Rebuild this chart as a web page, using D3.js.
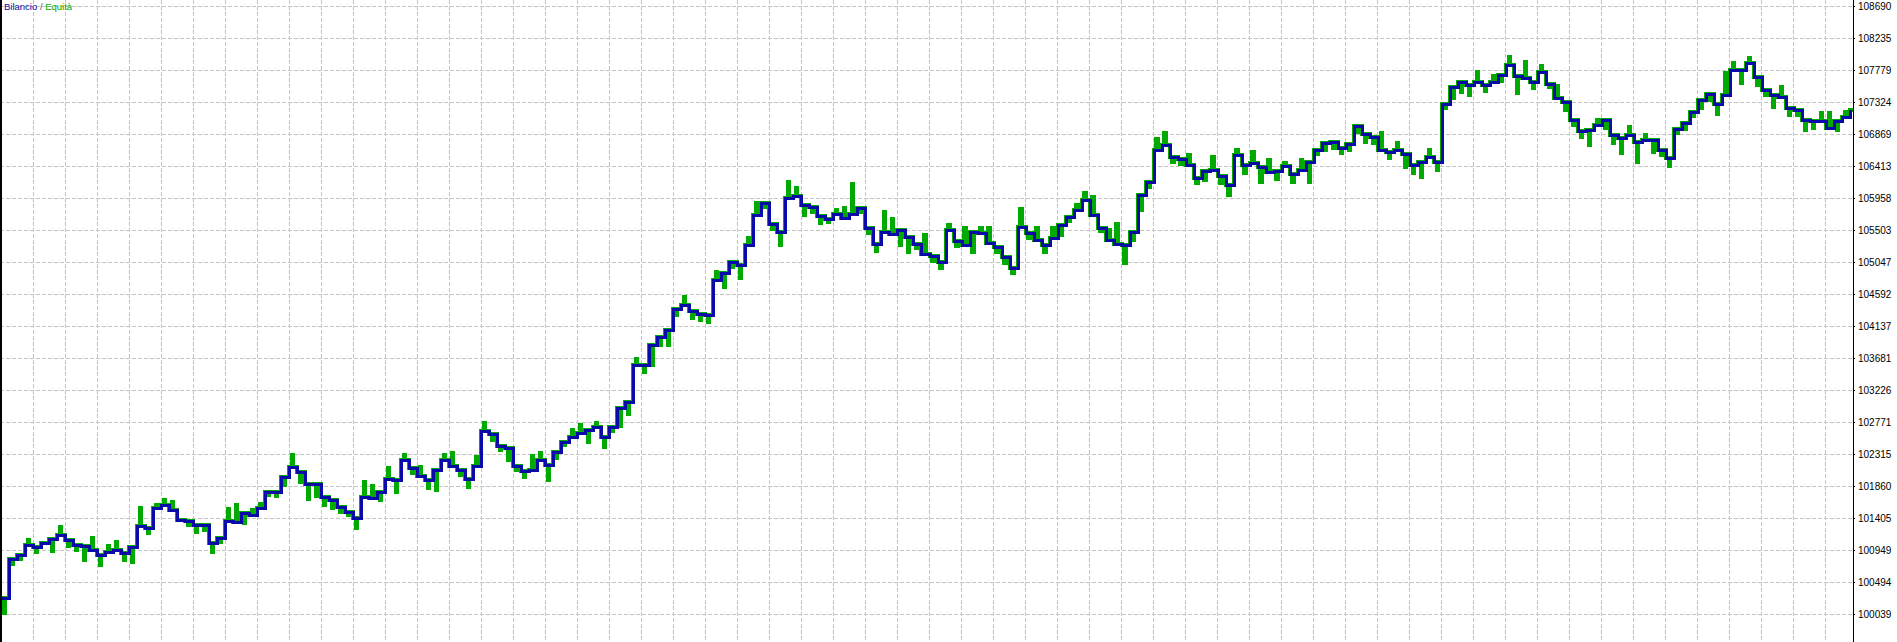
<!DOCTYPE html>
<html>

<head>
    <meta charset="utf-8">
    <style>
        body {
            margin: 0;
            background: white;
        }

        svg {
            display: block;
            font-family: 'Liberation Sans', Arial, sans-serif;
        }

        .grid line {
            stroke: #c4c4c4;
            stroke-width: 1px;
            stroke-dasharray: 4, 2;
            shape-rendering: crispEdges;
        }

        .y .tick text {
            font-size: 10px;
            fill: #000;
        }

        .y .domain {
            display: none;
        }
    </style>
</head>

<body>
    <svg width="1897" height="642"></svg>
</body>

<script src="https://d3js.org/d3.v7.min.js"></script>

<script>
    let width = 1897;
    let height = 642;

    // balance, one value per trade step
    let balance = [
        100266, 100821, 100878, 101020, 100992, 101049, 101106, 101163, 101091, 101020,
        101006, 100949, 100878, 100921, 100949, 100906, 100992, 101291, 101262, 101547,
        101589, 101518, 101376, 101362, 101305, 101305, 101049, 101120, 101362, 101348,
        101476, 101447, 101547, 101774, 101774, 101988, 102130, 102059, 101888, 101888,
        101703, 101660, 101561, 101490, 101404, 101703, 101689, 101774, 101959, 101945,
        102230, 102116, 102002, 101945, 102087, 102230, 102144, 102087, 101959, 102144,
        102642, 102600, 102429, 102400, 102144, 102073, 102087, 102230, 102159, 102344,
        102486, 102557, 102614, 102657, 102699, 102557, 102699, 102970, 103055, 103581,
        103581, 103866, 103980, 104079, 104378, 104435, 104350, 104307, 104293, 104791,
        104890, 105047, 105004, 105289, 105716, 105887, 105588, 105474, 105958, 105986,
        105858, 105830, 105702, 105659, 105730, 105673, 105730, 105815, 105531, 105303,
        105474, 105445, 105502, 105403, 105303, 105161, 105132, 105047, 105502, 105346,
        105289, 105474, 105460, 105317, 105260, 105118, 104962, 105545, 105460, 105360,
        105289, 105389, 105574, 105687, 105787, 105929, 105716, 105531, 105360, 105303,
        105289, 105474, 106000, 106185, 106641, 106712, 106541, 106513, 106427, 106242,
        106342, 106356, 106271, 106143, 106570, 106427, 106456, 106399, 106328, 106342,
        106413, 106299, 106356, 106470, 106641, 106740, 106755, 106669, 106726, 106982,
        106868, 106826, 106641, 106612, 106641, 106584, 106427, 106470, 106541, 106470,
        107295, 107537, 107608, 107566, 107608, 107566, 107608, 107708, 107850, 107694,
        107665, 107608, 107751, 107580, 107381, 107324, 107068, 106911, 106925, 106996,
        107068, 106854, 106811, 106854, 106755, 106783, 106783, 106641, 106527, 106940,
        107025, 107181, 107352, 107438, 107295, 107423, 107779, 107779, 107879, 107679,
        107494, 107423, 107395, 107238, 107210, 107068, 107053, 107053, 106954, 107053,
        107110, 107210
    ]

    // equity at the same steps (floating drawdowns / peaks)
    let equity = [
        100053, 100750, 100821, 101091, 100921, 101049, 100935, 101277, 101006, 100949,
        100807, 101120, 100736, 101006, 101063, 100806, 100779, 101547, 101191, 101590,
        101660, 101632, 101376, 101305, 101205, 101234, 100921, 101063, 101533, 101590,
        101334, 101518, 101604, 101731, 101717, 101874, 102301, 101917, 101675, 101717,
        101589, 101546, 101490, 101447, 101262, 101916, 101860, 101660, 102116, 101774,
        102301, 102045, 102130, 101831, 101802, 102301, 102329, 102016, 101845, 102272,
        102756, 102515, 102372, 102229, 102087, 101988, 102286, 102330, 101946, 102259,
        102443, 102657, 102728, 102486, 102756, 102415, 102642, 102714, 102884, 103666,
        103481, 103581, 103866, 103866, 104293, 104549, 104250, 104222, 104193, 104905,
        104691, 104976, 104819, 105389, 105887, 105830, 105517, 105289, 106186, 106100,
        105716, 105759, 105602, 105616, 105787, 105815, 106157, 105758, 105460, 105203,
        105759, 105658, 105289, 105190, 105246, 105431, 105061, 104962, 105573, 105275,
        105531, 105189, 105531, 105530, 105189, 105033, 104891, 105801, 105389, 105531,
        105189, 105531, 105432, 105630, 105858, 106029, 105972, 105488, 105502, 105588,
        105033, 105360, 105787, 106114, 106798, 106883, 106470, 106442, 106569, 106171,
        106214, 106541, 106171, 106001, 106641, 106313, 106613, 106186, 106499, 106228,
        106456, 106185, 106498, 106185, 106584, 106640, 106670, 106598, 106641, 106897,
        106754, 106741, 106883, 106527, 106741, 106399, 106313, 106257, 106641, 106356,
        107238, 107380, 107466, 107424, 107750, 107481, 107693, 107623, 107964, 107452,
        107893, 107523, 107836, 107537, 107552, 107210, 106997, 106826, 106712, 107067,
        106954, 106740, 106598, 106968, 106470, 106854, 106612, 106570, 106413, 106883,
        106940, 107124, 107238, 107353, 107153, 107736, 107879, 107594, 107950, 107565,
        107423, 107252, 107537, 107138, 107139, 106926, 106953, 107167, 107167, 106925,
        107181, 107210
    ]

    // price scale labels on the right
    let yTicks = [
        108690, 108235, 107779, 107324, 106869, 106413, 105958, 105503, 105047, 104592,
        104137, 103681, 103226, 102771, 102315, 101860, 101405, 100949, 100494, 100039
    ]

    let legendParts = [
        { text: "Bilancio", color: "#0a0aa8" },
        { text: " / ", color: "#555" },
        { text: "Equità", color: "#00aa00" }
    ]

    let axisX = 1853;
    let gridStart = 33;
    let gridStep = 32;

    let svg = d3.select("svg")

    svg.append("rect")
        .attr("width", width)
        .attr("height", height)
        .attr("fill", "white")

    let x = d3.scaleLinear()
        .domain([0, balance.length - 1])
        .range([1, 1850])

    let y = d3.scaleLinear()
        .domain([d3.min(yTicks), d3.max(yTicks)])
        .range([614, 6])

    // dashed grid
    let grid = svg.append("g").attr("class", "grid")

    grid.selectAll(".vline")
        .data(d3.range(gridStart, axisX, gridStep))
        .join("line")
        .attr("class", "vline")
        .attr("x1", d => d + 0.5)
        .attr("x2", d => d + 0.5)
        .attr("y1", 0)
        .attr("y2", height)

    grid.selectAll(".hline")
        .data(yTicks)
        .join("line")
        .attr("class", "hline")
        .attr("x1", 0)
        .attr("x2", axisX)
        .attr("y1", d => Math.round(y(d)) + 0.5)
        .attr("y2", d => Math.round(y(d)) + 0.5)

    // equity: narrow spike inside each step, back to balance afterwards
    let eqPoints = []
    equity.forEach(function (v, i) {
        eqPoints.push({ i: i, v: balance[i] })
        eqPoints.push({ i: i + 0.35, v: v })
        eqPoints.push({ i: i + 0.5, v: balance[i] })
    })

    let eqLine = d3.line()
        .x(d => Math.round(x(d.i)))
        .y(d => Math.round(y(d.v)))
        .curve(d3.curveStepAfter)

    svg.append("path")
        .datum(eqPoints)
        .attr("fill", "none")
        .attr("stroke", "#00aa00")
        .attr("stroke-width", 4)
        .attr("shape-rendering", "crispEdges")
        .attr("d", eqLine)

    let balLine = d3.line()
        .x((d, i) => Math.round(x(i)))
        .y(d => Math.round(y(d)))
        .curve(d3.curveStepAfter)

    svg.append("path")
        .datum(balance)
        .attr("fill", "none")
        .attr("stroke", "#0a0aa8")
        .attr("stroke-width", 3)
        .attr("shape-rendering", "crispEdges")
        .attr("d", balLine)

    // right price axis
    let yAxisSettings = d3.axisRight(y)
        .tickValues(yTicks)
        .tickFormat(d3.format("d"))
        .tickSize(2)
        .tickPadding(3)

    svg.append("g")
        .attr("class", "y axis")
        .attr("transform", `translate(${axisX},0)`)
        .call(yAxisSettings)
        .call(g => g.selectAll(".tick line").attr("stroke", "#000"))

    svg.append("line")
        .attr("x1", axisX + 0.5)
        .attr("x2", axisX + 0.5)
        .attr("y1", 0)
        .attr("y2", height)
        .attr("stroke", "#000")
        .attr("stroke-width", 1)

    // left frame edge
    svg.append("line")
        .attr("x1", 1)
        .attr("x2", 1)
        .attr("y1", 0)
        .attr("y2", height)
        .attr("stroke", "#000")
        .attr("stroke-width", 2)

    // legend top-left
    svg.append("text")
        .attr("x", 4)
        .attr("y", 10)
        .attr("font-size", "9.5px")
        .selectAll("tspan")
        .data(legendParts)
        .join("tspan")
        .attr("fill", d => d.color)
        .attr("xml:space", "preserve")
        .text(d => d.text)

</script>

</html>
